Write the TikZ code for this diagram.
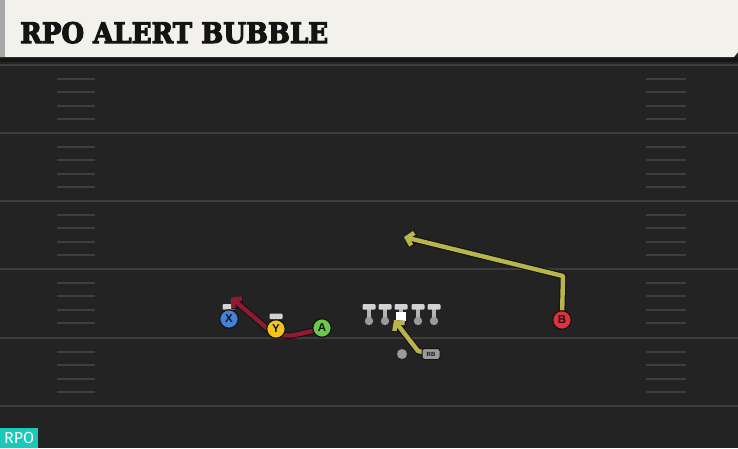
\documentclass[tikz,border=0pt]{standalone}
\usepackage{fontspec}
\setmainfont{DejaVu Serif}
\newfontfamily\titlefont{DejaVu Serif}[BoldFeatures={FakeBold=4}]
\newfontfamily\lblfont{Liberation Sans}
\newfontfamily\tagfont{Fira Sans}
\usetikzlibrary{arrows.meta}
\definecolor{hdrbg}{HTML}{F3F1EB}
\definecolor{hdredge}{HTML}{A8A8A8}
\definecolor{fieldbg}{HTML}{232323}
\definecolor{fielddark}{HTML}{161616}
\definecolor{yardline}{HTML}{3D3D3D}
\definecolor{hashc}{HTML}{3E3E3E}
\definecolor{pblue}{HTML}{4382DC}
\definecolor{pyellow}{HTML}{F2C41C}
\definecolor{pgreen}{HTML}{68C94C}
\definecolor{pred}{HTML}{E2303F}
\definecolor{rred}{HTML}{8E1B2E}
\definecolor{ryellow}{HTML}{B9B54D}
\definecolor{outl}{HTML}{141414}
\definecolor{teal}{HTML}{1CC8B8}
\definecolor{tbar}{HTML}{D2D2D2}
\definecolor{tstem}{HTML}{B4B4B4}
\definecolor{tdot}{HTML}{9A9A9A}
\tikzset{
  x=1pt, y=-1pt,
  player/.style={circle, draw=outl, line width=1.2pt, minimum size=18.5pt, inner sep=0pt,
    font=\lblfont\bfseries\fontsize{11.5}{11.5}\selectfont, text=outl},
  routeout/.style={draw=outl, line width=6.6pt, line join=round,
    -{Straight Barb[length=6pt,width=13pt,line width=6.6pt]}},
  routein/.style={line width=4.4pt, line join=round,
    -{Straight Barb[length=6pt,width=13pt,line width=4.4pt]}},
  hashmark/.style={draw=hashc, line width=2pt},
  yard/.style={draw=yardline, line width=2pt},
}
\begin{document}
\begin{tikzpicture}
\useasboundingbox (0,0) rectangle (738,448);
% field
\fill[fieldbg] (0,0) rectangle (738,448);
\fill[fielddark] (0,57) rectangle (738,62);
% yard lines
\foreach \yy in {65,133,201,269,338,406} {
  \draw[yard] (0,\yy) -- (738,\yy);
}
% hash marks
\foreach \yy in {65,133,201,269,338} {
  \foreach \k in {1,...,4} {
    \pgfmathsetmacro{\hy}{\yy+13.6*\k}
    \draw[hashmark] (57,\hy) -- (95,\hy);
    \draw[hashmark] (646,\hy) -- (686,\hy);
  }
}
% header
\fill[hdrbg] (0,0) -- (738,0) -- (738,52) -- (734,57) -- (0,57) -- cycle;
\fill[hdredge] (0,0) rectangle (5,57);
\node[anchor=base west, inner sep=0pt, text=outl] (title) at (20,43)
  {\resizebox{308pt}{21pt}{\titlefont\bfseries RPO ALERT BUBBLE}};
% RPO tag
\node[fill=teal, anchor=south west, minimum width=38pt, minimum height=20pt, inner sep=0pt,
  text=white, font=\tagfont\fontsize{16}{16}\selectfont] (tag) at (0,448) {RPO};

% linemen
\foreach \i/\xx in {1/369,2/385,3/401,4/418,5/434} {
  \fill[tstem] (\xx-2,308) rectangle (\xx+2,319);
  \fill[tdot] (\xx,321) circle (4.2pt);
  \fill[tbar, rounded corners=1pt] (\xx-6.5,304) rectangle (\xx+6.5,309.5);
  \coordinate (ol\i) at (\xx,320);
}
\node[fill=white, minimum size=10pt, inner sep=0pt] (C) at (401,317) {};
% QB
\fill[tdot] (402,354) circle (5pt);
\node[circle, inner sep=0pt, minimum size=10pt] (QB) at (402,354) {};

% T markers above X and Y
\fill[tstem] (227,307) rectangle (231,311);
\fill[tbar, rounded corners=1pt] (222.5,304) rectangle (235.5,309.5);
\fill[tstem] (274,317) rectangle (278,321);
\fill[tbar, rounded corners=1pt] (269.5,313.5) rectangle (282.5,319);

% route coordinates
\coordinate (aL) at (292,335.5);
\coordinate (ybend) at (262,324);
\coordinate (xend) at (231,297.5);
\coordinate (bturn) at (563,276);
\coordinate (bend) at (404,237);
\coordinate (rbturn) at (418,351);
\coordinate (rbend) at (394,320);

% red route (A)
\draw[routeout] (322,329) -- (aL) .. controls (274,336) and (270,331) .. (ybend) -- (xend);
\draw[routein, draw=rred] (322,329) -- (aL) .. controls (274,336) and (270,331) .. (ybend) -- (xend);

% yellow route (B)
\draw[routeout] (562,318) -- (bturn) -- (bend);
\draw[routein, draw=ryellow] (562,318) -- (bturn) -- (bend);

% RB route
\draw[routeout] (428,353) -- (rbturn) -- (rbend);
\draw[routein, draw=ryellow] (428,353) -- (rbturn) -- (rbend);

% players
\node[player, fill=pblue] (X) at (229,319) {X};
\node[player, fill=pyellow] (Y) at (276,329) {Y};
\node[player, fill=pgreen] (A) at (322,328) {A};
\node[player, fill=pred] (B) at (562,320) {B};
\node[draw=outl, line width=1pt, fill=tdot, rounded corners=2.5pt, minimum width=18pt,
  minimum height=11pt, inner sep=0pt, text=outl,
  font=\lblfont\bfseries\fontsize{6}{6}\selectfont] (RB) at (431,354) {RB};
\end{tikzpicture}
\end{document}
